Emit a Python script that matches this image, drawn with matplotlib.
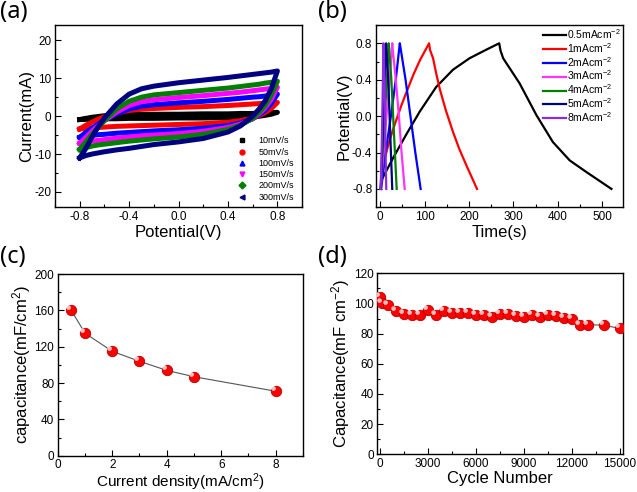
import matplotlib
matplotlib.use('Agg')
import matplotlib.pyplot as plt
from matplotlib.lines import Line2D
from matplotlib.path import Path
from matplotlib.ticker import MultipleLocator, AutoMinorLocator

plt.rcParams['font.family'] = ['Liberation Sans', 'DejaVu Sans']
plt.rcParams['mathtext.fontset'] = 'custom'
plt.rcParams['mathtext.rm'] = 'Liberation Sans'
plt.rcParams['mathtext.it'] = 'Liberation Sans'
plt.rcParams['axes.unicode_minus'] = False

# ── (a) CV loops: forward (up) and reverse (down) branch currents, mA ─────
cv_potential = [-0.8, -0.75, -0.7, -0.65, -0.6, -0.5, -0.4, -0.3, -0.2,
                0.0, 0.2, 0.4, 0.5, 0.6, 0.65, 0.7, 0.75, 0.8]
cv_labels = ['10mV/s', '50mV/s', '100mV/s', '150mV/s', '200mV/s', '300mV/s']
cv_up = [
    [-0.9, -0.6, -0.3, -0.1, 0.1, 0.3, 0.4, 0.45, 0.5, 0.5, 0.6, 0.6, 0.7, 0.7, 0.75, 0.8, 0.9, 1.0],
    [-3.4, -2.4, -1.6, -0.8, -0.2, 0.8, 1.5, 1.8, 2.0, 2.3, 2.5, 2.8, 3.0, 3.2, 3.3, 3.4, 3.5, 3.6],
    [-5.6, -4.3, -3.2, -2.1, -1.1, 0.6, 1.9, 2.6, 3.0, 3.5, 3.9, 4.4, 4.7, 5.0, 5.1, 5.3, 5.5, 5.8],
    [-7.2, -5.6, -4.0, -2.5, -1.2, 1.1, 2.8, 3.8, 4.3, 4.9, 5.4, 6.0, 6.3, 6.7, 6.9, 7.1, 7.3, 7.6],
    [-8.8, -6.8, -4.8, -2.9, -1.2, 1.9, 3.9, 5.0, 5.6, 6.2, 6.8, 7.4, 7.8, 8.2, 8.4, 8.7, 8.9, 9.2],
    [-11.0, -8.5, -5.5, -2.8, -0.5, 3.2, 5.8, 7.2, 7.9, 8.8, 9.5, 10.2, 10.6, 11.0, 11.2, 11.4, 11.6, 11.9],
]
cv_down = [
    [-0.9, -0.85, -0.8, -0.75, -0.7, -0.7, -0.6, -0.6, -0.6, -0.5, -0.5, -0.4, -0.3, -0.2, -0.05, 0.2, 0.5, 1.0],
    [-3.4, -3.2, -3.1, -3.0, -2.9, -2.7, -2.6, -2.5, -2.4, -2.2, -2.0, -1.6, -1.2, -0.5, 0.1, 0.9, 2.0, 3.6],
    [-5.6, -5.3, -5.1, -4.9, -4.8, -4.5, -4.3, -4.1, -3.9, -3.6, -3.2, -2.5, -1.8, -0.7, 0.3, 1.5, 3.3, 5.8],
    [-7.2, -6.9, -6.6, -6.4, -6.2, -5.8, -5.5, -5.2, -5.0, -4.6, -4.0, -3.0, -2.1, -0.7, 0.6, 2.2, 4.4, 7.6],
    [-8.8, -8.3, -7.9, -7.6, -7.4, -7.0, -6.6, -6.3, -6.0, -5.5, -4.8, -3.5, -2.4, -0.6, 0.9, 2.8, 5.5, 9.2],
    [-11.0, -10.4, -10.0, -9.7, -9.4, -8.9, -8.5, -8.0, -7.5, -6.8, -5.9, -4.2, -2.6, 0.0, 1.8, 4.0, 7.2, 11.9],
]
cv_colors = ['#000000', '#ff0000', '#0000ff', '#ff00ff', '#008000', '#000080']
cv_markers = ['s', 'o', '^', 'v', 'D', '<']

# ── (b) galvanostatic charge/discharge ─────────────────────────────────────
gcd_labels = ['0.5mAcm$^{-2}$', '1mAcm$^{-2}$', '2mAcm$^{-2}$', '3mAcm$^{-2}$',
              '4mAcm$^{-2}$', '5mAcm$^{-2}$', '8mAcm$^{-2}$']
gcd_time = [
    [3, 30, 60, 89, 126, 164, 201, 239, 268, 271, 277, 314, 352, 389, 427,
     465, 521],
    [1, 4, 10, 20, 32, 47, 62, 75, 90, 100, 110, 112, 119, 126, 134, 148,
     164, 178, 194, 206, 218],
    [2, 12, 24, 35, 44, 46, 57, 68, 79, 91],
    [1, 7, 14, 21, 27, 28, 35, 42, 48, 55],
    [1, 5, 10, 15, 19, 20, 25, 29, 33, 37],
    [1, 4, 7, 10, 13, 14, 18, 21, 24, 27],
    [1, 3, 4.5, 6, 7, 7.5, 9.5, 11, 12, 13.5],
]
gcd_volt = [
    [-0.70, -0.45, -0.19, 0.05, 0.32, 0.51, 0.635, 0.73, 0.8, 0.72, 0.635,
     0.36, 0.01, -0.285, -0.487, -0.616, -0.8],
    [-0.8, -0.65, -0.47, -0.28, -0.1, 0.11, 0.30, 0.46, 0.62, 0.71, 0.8,
     0.73, 0.635, 0.47, 0.30, 0.06, -0.175, -0.36, -0.54, -0.67, -0.8],
    [-0.8, -0.4, 0.0, 0.4, 0.8, 0.74, 0.4, 0.0, -0.4, -0.8],
    [-0.8, -0.4, 0.0, 0.4, 0.8, 0.74, 0.4, 0.0, -0.4, -0.8],
    [-0.8, -0.4, 0.0, 0.4, 0.8, 0.74, 0.4, 0.0, -0.4, -0.8],
    [-0.8, -0.4, 0.0, 0.4, 0.8, 0.74, 0.4, 0.0, -0.4, -0.8],
    [-0.8, -0.4, 0.0, 0.4, 0.8, 0.74, 0.4, 0.0, -0.4, -0.8],
]
gcd_colors = ['#000000', '#ff0000', '#0000ff', '#ff33ff', '#008000', '#000080', '#8a2be2']

# ── (c) rate capability ────────────────────────────────────────────────────
current_density = [0.5, 1, 2, 3, 4, 5, 8]
capacitance = [160, 135, 115, 104, 94, 87, 71]

# ── (d) cycling stability ──────────────────────────────────────────────────
cycles = [0, 100, 500, 1000, 1500, 2000, 2500, 3000, 3500, 4000, 4500, 5000,
          5500, 6000, 6500, 7000, 7500, 8000, 8500, 9000, 9500, 10000, 10500,
          11000, 11500, 12000, 12500, 13000, 14000, 15000]
cycle_cap = [104, 100.3, 98.8, 94.8, 93.0, 92.4, 92.4, 95.7, 92.2, 94.8, 93.9,
             93.9, 93.9, 92.6, 92.6, 91.0, 92.8, 92.8, 91.9, 91.0, 92.6, 91.0,
             92.6, 91.7, 90.4, 89.7, 85.5, 86.0, 85.5, 83.5]

TICK_FS = 8.5
LABEL_FS = 12


def style_axes(ax):
    for s in ax.spines.values():
        s.set_linewidth(1.0)
    ax.tick_params(which='both', direction='in', top=False, right=False,
                   labelsize=TICK_FS, width=0.8, pad=2.5)
    ax.tick_params(which='major', length=4)
    ax.tick_params(which='minor', length=2)
    ax.xaxis.set_minor_locator(AutoMinorLocator(2))
    ax.yaxis.set_minor_locator(AutoMinorLocator(2))


def sphere(ax, x, y):
    # red ball marker with a small white highlight
    ax.plot(x, y, ls='none', marker='o', ms=7.5, mfc='#ff0000',
            mec='#b00000', mew=0.6, zorder=3)
    hl = Path.circle((-0.25, 0.25), 0.2)
    ax.plot(x, y, ls='none', marker=hl, ms=7.5, mfc='white', mec='none',
            alpha=0.75, zorder=4)


fig = plt.figure(figsize=(6.37, 4.92), dpi=100)

# (a)
ax_a = fig.add_axes([0.0863, 0.579, 0.388, 0.370])
for up, down, c in zip(cv_up, cv_down, cv_colors):
    xs = cv_potential + cv_potential[::-1]
    ys = up + down[::-1]
    ax_a.plot(xs, ys, color=c, lw=3.6, solid_joinstyle='round')
ax_a.set_xlim(-1.0, 1.0)
ax_a.set_ylim(-24, 24)
ax_a.yaxis.set_major_locator(MultipleLocator(10))
ax_a.set_xticks([-0.8, -0.4, 0.0, 0.4, 0.8])
ax_a.set_xticklabels(['-0.8', '-0.4', '0.0', '0.4', '0.8'])
ax_a.set_xlabel('Potential(V)', fontsize=LABEL_FS, labelpad=2)
ax_a.set_ylabel('Current(mA)', fontsize=LABEL_FS, labelpad=0)
style_axes(ax_a)
handles = [Line2D([], [], ls='none', marker=m, color=c, ms=3.5)
           for m, c in zip(cv_markers, cv_colors)]
ax_a.legend(handles, cv_labels, loc='lower right', frameon=False,
            fontsize=6.5, handletextpad=0.9, labelspacing=0.25,
            borderaxespad=0.2, bbox_to_anchor=(0.99, 0.0))

# (b)
ax_b = fig.add_axes([0.590, 0.579, 0.388, 0.370])
for t, v, c, lab in zip(gcd_time, gcd_volt, gcd_colors, gcd_labels):
    ax_b.plot(t, v, color=c, lw=1.6, label=lab)
ax_b.set_xlim(-10, 547)
ax_b.set_ylim(-1.0, 1.0)
ax_b.xaxis.set_major_locator(MultipleLocator(100))
ax_b.set_yticks([-0.8, -0.4, 0.0, 0.4, 0.8])
ax_b.set_yticklabels(['-0.8', '-0.4', '0.0', '0.4', '0.8'])
ax_b.set_xlabel('Time(s)', fontsize=LABEL_FS, labelpad=2)
ax_b.set_ylabel('Potential(V)', fontsize=LABEL_FS, labelpad=0)
style_axes(ax_b)
ax_b.legend(loc='upper right', frameon=False, fontsize=7.5, handlelength=2.2,
            handletextpad=0.1, labelspacing=0.0, borderaxespad=0.0,
            borderpad=0.2, bbox_to_anchor=(1.0, 1.0))

# (c)
ax_c = fig.add_axes([0.0906, 0.0738, 0.385, 0.369])
ax_c.plot(current_density, capacitance, color='#555555', lw=0.8, zorder=2)
sphere(ax_c, current_density, capacitance)
ax_c.set_xlim(0, 9)
ax_c.set_ylim(0, 200)
ax_c.xaxis.set_major_locator(MultipleLocator(2))
ax_c.yaxis.set_major_locator(MultipleLocator(40))
ax_c.set_xlabel('Current density(mA/cm$^{2}$)', fontsize=11, labelpad=0)
ax_c.set_ylabel('capacitance(mF/cm$^{2}$)', fontsize=LABEL_FS, labelpad=1)
style_axes(ax_c)

# (d)
ax_d = fig.add_axes([0.592, 0.0766, 0.386, 0.368])
ax_d.plot(cycles, cycle_cap, color='#555555', lw=0.8, zorder=2)
sphere(ax_d, cycles, cycle_cap)
ax_d.set_xlim(-200, 15200)
ax_d.set_ylim(0, 120)
ax_d.xaxis.set_major_locator(MultipleLocator(3000))
ax_d.yaxis.set_major_locator(MultipleLocator(20))
ax_d.set_xlabel('Cycle Number', fontsize=LABEL_FS, labelpad=1)
ax_d.set_ylabel('Capacitance(mF cm$^{-2}$)', fontsize=LABEL_FS, labelpad=1)
style_axes(ax_d)

# panel letters
for x, y, s in [(0.0, 1.0, '(a)'), (0.499, 1.0, '(b)'),
                (0.0, 0.503, '(c)'), (0.499, 0.503, '(d)')]:
    fig.text(x, y, s, fontsize=17, va='top', ha='left',
             family=['Noto Sans', 'DejaVu Sans'])

fig.savefig('out.png', dpi=100)
